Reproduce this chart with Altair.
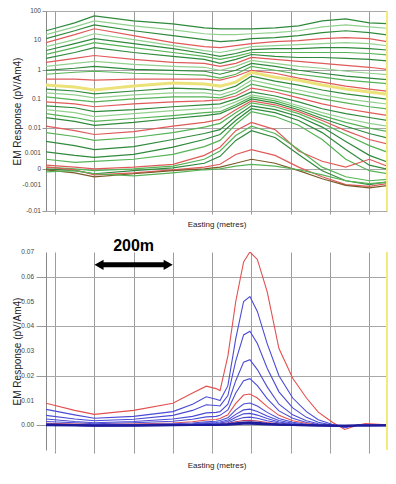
import altair as alt
import pandas as pd

FONT = "Liberation Sans"

# ---------------- Top panel: Z component (symlog response) ----------------
top_x = [-23, 50, 100, 200, 300, 380, 420, 460, 500, 560, 620, 680, 740, 800, 862]

z01 = [21.2, 39.4, 67.8, 46.0, 36.5, 26.8, 24.8, 24.8, 24.8, 26.8, 31.2, 46.0, 53.8, 39.4, 36.5]
z02 = [15.6, 28.9, 46.0, 31.2, 22.9, 16.8, 15.6, 15.6, 16.8, 18.2, 21.2, 28.9, 33.8, 28.9, 24.8]
z03 = [11.4, 21.2, 33.8, 21.2, 14.4, 10.6, 9.05, 9.78, 11.4, 12.3, 14.4, 18.2, 21.2, 18.2, 14.4]
z04 = [8.37, 15.6, 24.8, 14.4, 8.37, 6.14, 5.68, 6.63, 7.75, 9.05, 9.78, 11.4, 12.3, 11.4, 8.37]
z05 = [6.14, 10.6, 16.8, 10.6, 6.63, 4.50, 3.86, 4.86, 6.14, 6.63, 7.17, 7.75, 8.37, 7.75, 6.14]
z06 = [4.50, 7.75, 11.4, 7.75, 5.26, 3.57, 2.83, 3.57, 4.86, 5.26, 5.26, 5.68, 5.68, 5.26, 4.50]
z07 = [3.30, 5.68, 8.37, 5.68, 3.86, 2.83, 2.24, 2.83, 3.86, 3.86, 3.86, 3.86, 3.86, 3.57, 3.05]
z08 = [2.42, 3.86, 5.68, 3.86, 2.83, 2.24, 1.64, 2.24, 3.30, 2.83, 2.61, 2.61, 2.42, 2.24, 1.92]
z09 = [1.78, 2.42, 3.05, 2.24, 1.78, 1.64, 1.30, 1.64, 2.61, 2.24, 1.92, 1.64, 1.41, 1.21, 0.956]
z10 = [1.30, 1.64, 1.92, 1.52, 1.30, 1.21, 0.956, 1.30, 2.07, 1.64, 1.30, 1.12, 0.885, 0.758, 0.649]
z11 = [0.956, 1.12, 1.30, 1.03, 0.956, 0.885, 0.701, 0.956, 1.64, 1.30, 0.956, 0.758, 0.600, 0.514, 0.440]
z12 = [0.701, 0.819, 0.885, 0.758, 0.701, 0.649, 0.514, 0.701, 1.30, 0.956, 0.701, 0.555, 0.440, 0.377, 0.323]
z13 = [0.476, 0.476, 0.440, 0.476, 0.476, 0.476, 0.440, 0.600, 0.956, 0.758, 0.514, 0.377, 0.276, 0.219, 0.174]
z14 = [0.299, 0.256, 0.203, 0.276, 0.349, 0.323, 0.276, 0.377, 0.819, 0.555, 0.440, 0.299, 0.219, 0.174, 0.138]
z15 = [0.219, 0.188, 0.149, 0.188, 0.237, 0.219, 0.188, 0.276, 0.600, 0.407, 0.299, 0.203, 0.149, 0.118, 0.0934]
z16 = [0.161, 0.138, 0.109, 0.138, 0.161, 0.161, 0.138, 0.203, 0.440, 0.299, 0.203, 0.138, 0.101, 0.0800, 0.0634]
z17 = [0.118, 0.0934, 0.0800, 0.101, 0.118, 0.118, 0.109, 0.161, 0.323, 0.219, 0.149, 0.101, 0.0740, 0.0543, 0.0430]
z18 = [0.0800, 0.0685, 0.0543, 0.0685, 0.0800, 0.0864, 0.0934, 0.127, 0.237, 0.174, 0.109, 0.0685, 0.0465, 0.0341, 0.0250]
z19 = [0.0586, 0.0502, 0.0368, 0.0430, 0.0543, 0.0634, 0.0685, 0.101, 0.174, 0.127, 0.0800, 0.0465, 0.0315, 0.0231, 0.0170]
z20 = [0.0430, 0.0341, 0.0250, 0.0315, 0.0398, 0.0465, 0.0502, 0.0800, 0.138, 0.101, 0.0586, 0.0341, 0.0214, 0.0145, 0.0107]
z21 = [0.0315, 0.0231, 0.0170, 0.0214, 0.0270, 0.0341, 0.0368, 0.0634, 0.118, 0.0864, 0.0502, 0.0270, 0.0157, 0.0098, 0.0068]
z22 = [0.0231, 0.0170, 0.0124, 0.0157, 0.0214, 0.0270, 0.0315, 0.0543, 0.101, 0.0740, 0.0430, 0.0214, 0.0115, 0.0063, 0.0038]
z23 = [0.0115, 0.0080, 0.0058, 0.0074, 0.0115, 0.0157, 0.0198, 0.0430, 0.0864, 0.0634, 0.0368, 0.0183, 0.0080, 0.0038, 0.0022]
z24 = [0.0068, 0.0049, 0.0035, 0.0045, 0.0068, 0.0107, 0.0145, 0.0341, 0.0740, 0.0543, 0.0315, 0.0145, 0.0058, 0.0022, 0.00090]
z25 = [0.0032, 0.0022, 0.0015, 0.0020, 0.0038, 0.0063, 0.0087, 0.0250, 0.0586, 0.0430, 0.0250, 0.0107, 0.0032, 0.00081, 0.00020]
z26 = [0.0012, 0.00081, 0.00064, 0.00090, 0.0019, 0.0038, 0.0058, 0.0183, 0.0465, 0.0341, 0.0183, 0.0068, 0.0015, 0.00016, -0.00004]
z27 = [0.00049, 0.00030, 0.00036, 0.00049, 0.00090, 0.0020, 0.0035, 0.0134, 0.0368, 0.0250, 0.0124, 0.0038, 0.00049, -0.00004, -0.00021]
z28 = [0.00016, 0.00008, 0.00002, 0.00008, 0.00020, 0.00081, 0.0019, 0.0080, 0.0157, 0.0087, 0.0013, 0.00036, 0.00008, 0.00049, 0.00002]
z29 = [0.00008, 0.00002, -0.00004, 0.00002, 0.00012, 0.00049, 0.0013, 0.0053, 0.0115, 0.0063, 0.0015, 0.00008, -0.00031, -0.00057, -0.00043]
z30 = [0.00002, -0.00004, -0.00016, -0.00004, 0.00005, 0.00025, 0.00072, 0.0035, 0.0080, 0.0045, 0.00090, -0.00004, -0.00057, -0.00092, -0.00057]
z31 = [0.00008, -0.00001, -0.00021, -0.00012, -0.00001, 0.00008, 0.00020, 0.00090, 0.0015, 0.00081, 0.00008, -0.00031, -0.00092, -0.0011, -0.00073]
z32 = [-0.00001, -0.00012, -0.00031, -0.00016, -0.00004, 0.00002, 0.00008, 0.00025, 0.00049, 0.00025, -0.00004, -0.00043, -0.0010, -0.0013, -0.00092]
z33 = [-0.00008, -0.00004, -0.00016, -0.00026, -0.00012, -0.00001, 0.00002, 0.00012, 0.00020, 0.00012, -0.00001, -0.00021, -0.00057, -0.00082, -0.00065]

top_series = [z01, z02, z03, z04, z05, z06, z07, z08, z09, z10, z11, z12, z13, z14, z15, z16, z17,
              z18, z19, z20, z21, z22, z23, z24, z25, z26, z27, z28, z29, z30, z31, z32, z33]
top_names = ["Z%02d" % (i + 1) for i in range(len(top_series))]

DG, MG, LG, RD, YL, BR = "#2f8a3c", "#56b356", "#93d08f", "#e05a5a", "#ece27a", "#7a5a28"
top_colors = [DG, LG, DG, RD, LG, DG, MG, DG, RD, LG, DG, MG, RD, YL, DG, LG, MG,
              RD, DG, LG, MG, DG, RD, MG, DG, DG, MG, RD, MG, DG, RD, BR, MG]
top_ticks = [-0.01, -0.001, 0, 0.001, 0.01, 0.1, 1, 10, 100]
top_tick_text = ["-0.01", "-0.001", "0", "0.001", "0.01", "0.1", "1", "10", "100"]

# ---------------- Bottom panel: linear response ----------------
bot_x = [-23, 50, 100, 200, 300, 350, 385, 410, 420, 440, 460, 480, 496, 515, 540, 570, 605,
         640, 670, 705, 737, 770, 790, 862]

b01 = [0.0089, 0.0060, 0.0044, 0.0060, 0.0089, 0.0130, 0.0158, 0.0148, 0.0140, 0.0280, 0.0500, 0.0660, 0.0700, 0.0670, 0.0540, 0.0310, 0.0190, 0.0110, 0.0053, 0.0013, -0.0017, 0.0000, 0.0007, 0.0000]
b02 = [0.0064, 0.0042, 0.0028, 0.0036, 0.0055, 0.0085, 0.0115, 0.0105, 0.0100, 0.0160, 0.0350, 0.0500, 0.0520, 0.0460, 0.0330, 0.0200, 0.0110, 0.0055, 0.0022, 0.0004, -0.0010, 0.0000, 0.0000, 0.0000]
b03 = [0.0040, 0.0025, 0.0018, 0.0024, 0.0040, 0.0060, 0.0083, 0.0080, 0.0078, 0.0120, 0.0260, 0.0365, 0.0380, 0.0330, 0.0230, 0.0135, 0.0070, 0.0032, 0.0012, 0.0001, -0.0008, 0.0000, 0.0000, 0.0000]
b04 = [0.0025, 0.0015, 0.0010, 0.0015, 0.0025, 0.0036, 0.0050, 0.0052, 0.0055, 0.0085, 0.0180, 0.0255, 0.0265, 0.0225, 0.0155, 0.0085, 0.0042, 0.0018, 0.0006, 0.0000, -0.0006, 0.0000, 0.0000, 0.0000]
b05 = [0.0015, 0.0010, 0.0006, 0.0010, 0.0016, 0.0024, 0.0034, 0.0036, 0.0040, 0.0062, 0.0130, 0.0180, 0.0188, 0.0160, 0.0108, 0.0058, 0.0028, 0.0011, 0.0003, -0.0001, -0.0005, 0.0000, 0.0000, 0.0000]
b06 = [0.0008, 0.0005, 0.0003, 0.0005, 0.0009, 0.0014, 0.0021, 0.0023, 0.0027, 0.0042, 0.0088, 0.0122, 0.0126, 0.0110, 0.0075, 0.0040, 0.0018, 0.0007, 0.0001, -0.0002, -0.0005, 0.0000, 0.0002, 0.0000]
b07 = [0.0005, 0.0003, 0.0002, 0.0003, 0.0006, 0.0009, 0.0014, 0.0016, 0.0019, 0.0030, 0.0062, 0.0086, 0.0090, 0.0078, 0.0052, 0.0027, 0.0012, 0.0004, 0.0000, -0.0002, -0.0004, 0.0000, 0.0000, 0.0000]
b08 = [0.0003, 0.0002, 0.0001, 0.0002, 0.0004, 0.0006, 0.0010, 0.0011, 0.0013, 0.0021, 0.0044, 0.0062, 0.0065, 0.0056, 0.0037, 0.0019, 0.0008, 0.0002, 0.0000, -0.0002, -0.0003, 0.0000, 0.0000, 0.0000]
b09 = [0.0002, 0.0001, 0.0000, 0.0001, 0.0003, 0.0004, 0.0007, 0.0008, 0.0009, 0.0015, 0.0032, 0.0046, 0.0048, 0.0041, 0.0027, 0.0013, 0.0005, 0.0001, -0.0001, -0.0002, -0.0003, -0.0001, 0.0000, 0.0000]
b10 = [0.0001, 0.0000, -0.0001, 0.0000, 0.0002, 0.0003, 0.0005, 0.0005, 0.0006, 0.0010, 0.0022, 0.0031, 0.0033, 0.0028, 0.0018, 0.0009, 0.0003, 0.0000, -0.0001, -0.0002, -0.0003, -0.0001, 0.0000, 0.0000]
b11 = [0.0001, -0.0001, -0.0002, -0.0001, 0.0001, 0.0002, 0.0003, 0.0003, 0.0004, 0.0007, 0.0014, 0.0019, 0.0020, 0.0017, 0.0011, 0.0005, 0.0002, 0.0000, -0.0001, -0.0002, -0.0002, -0.0001, 0.0000, 0.0000]
b12 = [0.0000, -0.0001, -0.0002, -0.0002, 0.0000, 0.0001, 0.0002, 0.0002, 0.0002, 0.0004, 0.0008, 0.0011, 0.0012, 0.0010, 0.0006, 0.0003, 0.0001, 0.0000, -0.0001, -0.0002, -0.0002, -0.0001, -0.0001, 0.0000]
b13 = [0.0003, 0.0001, -0.0001, 0.0000, 0.0001, 0.0001, 0.0001, 0.0001, 0.0002, 0.0002, 0.0004, 0.0006, 0.0006, 0.0005, 0.0003, 0.0002, 0.0001, 0.0000, -0.0001, -0.0001, -0.0002, -0.0001, -0.0001, -0.0001]

bot_series = [b01, b02, b03, b04, b05, b06, b07, b08, b09, b10, b11, b12, b13]
bot_names = ["B%02d" % (i + 1) for i in range(len(bot_series))]
BL, RB, NV = "#4b4bd6", "#e25050", "#1c1c9c"
bot_colors = [RB, BL, BL, BL, BL, RB, BL, BL, BL, BL, "#c0406a", NV, NV]
bot_ticks = [0.0, 0.01, 0.02, 0.03, 0.04, 0.05, 0.06, 0.07]
bot_tick_text = ["0.00", "0.01", "0.02", "0.03", "0.04", "0.05", "0.06", "0.07"]

# annotation: 200 m scale arrow
arrow_x = [112, 288]
arrow_y = 0.0648
label_x = 200
label_y = 0.0726
x_min, x_max = -23, 845
edge_x = [x_max]
grid_x = [0, 100, 200, 300, 400, 500, 600, 700, 800]

# ---------------- build tables ----------------
top_df = pd.DataFrame(
    [{"ch": n, "easting": x, "resp": v}
     for n, s in zip(top_names, top_series) for x, v in zip(top_x, s)])
bot_df = pd.DataFrame(
    [{"ch": n, "easting": x, "resp": v}
     for n, s in zip(bot_names, bot_series) for x, v in zip(bot_x, s)])
top_lab_df = pd.DataFrame({"resp": top_ticks, "t": top_tick_text})
bot_lab_df = pd.DataFrame({"resp": bot_ticks, "t": bot_tick_text})

xscale = alt.Scale(domain=[x_min, x_max], nice=False, zero=False)


def x_axis(pad):
    return alt.Axis(values=grid_x, labels=False, tickSize=3, tickColor="#999",
                    grid=True, gridColor="#9c9c9c", gridWidth=1, domain=False,
                    title="Easting (metres)", titleFontSize=8, titleFontWeight="normal",
                    titleColor="#222", titlePadding=pad)


def y_axis(values, tick):
    return alt.Axis(values=values, labels=False, tickSize=tick, tickColor="#999",
                    grid=True, gridColor="#a8a8a8", domainColor="#888",
                    title="EM Response (pV/Am4)", titleFontSize=10,
                    titleFontWeight="normal", titleColor="#222", titleX=-24)


TW, TH = 341, 200
BW, BH = 341, 198

top_yscale = alt.Scale(type="symlog", constant=0.0004, domain=[-0.01, 100], nice=False)
top_lines = alt.Chart(top_df).mark_line(clip=True).encode(
    x=alt.X("easting:Q", scale=xscale, axis=x_axis(6)),
    y=alt.Y("resp:Q", scale=top_yscale, axis=y_axis(top_ticks, 4)),
    color=alt.Color("ch:N", scale=alt.Scale(domain=top_names, range=top_colors), legend=None),
    strokeWidth=alt.condition(alt.datum.ch == "Z14", alt.value(3), alt.value(1.2)),
)
top_labels = alt.Chart(top_lab_df).mark_text(
    font=FONT, fontSize=6.5, color="#444", align="right", baseline="middle", dx=-5, clip=False
).encode(x=alt.value(0), y=alt.Y("resp:Q", scale=top_yscale), text="t:N")
top_edge = alt.Chart(pd.DataFrame({"easting": edge_x})).mark_rule(
    color="#f2ec7c", strokeWidth=2).encode(x=alt.X("easting:Q", scale=xscale))
top = alt.layer(top_lines, top_labels, top_edge).properties(width=TW, height=TH)

bot_yscale = alt.Scale(domain=[-0.01, 0.07], nice=False, zero=False)
bot_lines = alt.Chart(bot_df).mark_line(clip=True).encode(
    x=alt.X("easting:Q", scale=xscale, axis=x_axis(8)),
    y=alt.Y("resp:Q", scale=bot_yscale, axis=y_axis(bot_ticks, 10)),
    color=alt.Color("ch:N", scale=alt.Scale(domain=bot_names, range=bot_colors), legend=None),
    strokeWidth=alt.condition((alt.datum.ch == "B12") | (alt.datum.ch == "B13"),
                              alt.value(2), alt.value(1.1)),
)
bot_labels = alt.Chart(bot_lab_df).mark_text(
    font=FONT, fontSize=6.5, color="#444", align="right", baseline="middle", dx=-12, clip=False
).encode(x=alt.value(0), y=alt.Y("resp:Q", scale=bot_yscale), text="t:N")
arrow_df = pd.DataFrame({"easting": arrow_x, "resp": [arrow_y, arrow_y],
                         "shape": ["triangle-left", "triangle-right"]})
arrow_line = alt.Chart(arrow_df).mark_line(color="black", strokeWidth=5).encode(
    x=alt.X("easting:Q", scale=xscale), y=alt.Y("resp:Q", scale=bot_yscale))
arrow_heads = alt.Chart(arrow_df).mark_point(filled=True, color="black", size=110, opacity=1).encode(
    x=alt.X("easting:Q", scale=xscale), y=alt.Y("resp:Q", scale=bot_yscale),
    shape=alt.Shape("shape:N", scale=None))
arrow_text = alt.Chart(pd.DataFrame({"easting": [label_x], "resp": [label_y], "t": ["200m"]})).mark_text(
    font=FONT, fontSize=16, fontWeight="bold", color="black", baseline="middle").encode(
    x=alt.X("easting:Q", scale=xscale), y=alt.Y("resp:Q", scale=bot_yscale), text="t:N")
bot_edge = alt.Chart(pd.DataFrame({"easting": edge_x})).mark_rule(
    color="#f2ec7c", strokeWidth=2).encode(x=alt.X("easting:Q", scale=xscale))
bottom = alt.layer(bot_lines, bot_labels, arrow_line, arrow_heads, arrow_text, bot_edge).properties(
    width=BW, height=BH)

chart = alt.vconcat(top, bottom, spacing=8, padding={"left": 4, "top": 0, "right": 0, "bottom": 0},
                    background="white").resolve_scale(
    color="independent", y="independent", strokeWidth="independent", shape="independent"
).configure_view(stroke=None).configure_axis(labelFont=FONT, titleFont=FONT)

chart.save("out.html", embed_options={"renderer": "svg", "actions": False})
